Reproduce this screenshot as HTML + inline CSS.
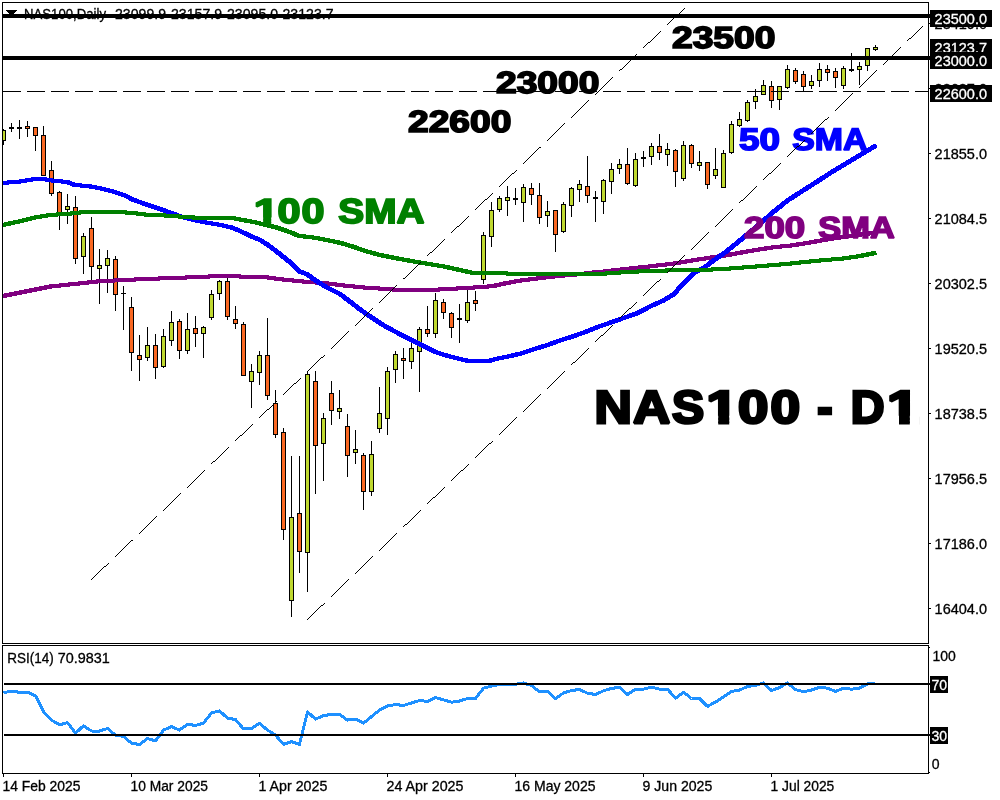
<!DOCTYPE html>
<html lang="en"><head><meta charset="utf-8"><title>NAS100 - D1</title>
<style>
html,body{margin:0;padding:0;background:#fff;}
body{width:1000px;height:800px;overflow:hidden;}
svg{display:block;}
text{font-family:"Liberation Sans",sans-serif;}
.s{font-size:14.2px;fill:#000;stroke:#000;stroke-width:0.3px;}
.w{font-size:14.2px;fill:#fff;stroke:#fff;stroke-width:0.3px;}
.b{font-weight:bold;stroke-linejoin:miter;stroke-miterlimit:1.5;}
</style></head><body>
<svg width="1000" height="800" viewBox="0 0 1000 800" role="img" aria-label="NAS100 - D1 daily candlestick chart with 50 SMA, 100 SMA, 200 SMA and RSI(14)">
<rect x="0" y="0" width="1000" height="800" fill="#fff"/>
<g shape-rendering="crispEdges">
<polygon points="5,10 17,10 11,16" fill="#000"/>
</g>
<text class="s" y="19"><tspan x="24" textLength="82" lengthAdjust="spacingAndGlyphs">NAS100,Daily</tspan> <tspan x="115" textLength="51" lengthAdjust="spacingAndGlyphs">23099.9</tspan> <tspan x="171" textLength="51" lengthAdjust="spacingAndGlyphs">23157.9</tspan> <tspan x="227" textLength="51" lengthAdjust="spacingAndGlyphs">23095.0</tspan> <tspan x="282.5" textLength="51" lengthAdjust="spacingAndGlyphs">23123.7</tspan></text>
<clipPath id="main"><rect x="3" y="3" width="925" height="640"/></clipPath>
<clipPath id="sub"><rect x="3" y="646" width="925" height="127"/></clipPath>
<g shape-rendering="crispEdges" clip-path="url(#main)">
<rect x="3" y="129" width="1" height="16" fill="#000"/>
<rect x="1" y="130" width="5" height="11" fill="#000"/>
<rect x="2" y="131" width="3" height="9" fill="#BFD82F"/>
<rect x="11" y="123" width="1" height="9" fill="#000"/>
<rect x="9" y="127" width="5" height="2" fill="#000"/>
<rect x="19" y="120" width="1" height="19" fill="#000"/>
<rect x="17" y="127" width="5" height="2" fill="#000"/>
<rect x="27" y="121" width="1" height="16" fill="#000"/>
<rect x="25" y="126" width="5" height="3" fill="#000"/>
<rect x="26" y="127" width="3" height="1" fill="#FA6822"/>
<rect x="35" y="127" width="1" height="24" fill="#000"/>
<rect x="33" y="127" width="5" height="9" fill="#000"/>
<rect x="34" y="128" width="3" height="7" fill="#FA6822"/>
<rect x="43" y="126" width="1" height="50" fill="#000"/>
<rect x="41" y="135" width="5" height="41" fill="#000"/>
<rect x="42" y="136" width="3" height="39" fill="#FA6822"/>
<rect x="51" y="161" width="1" height="35" fill="#000"/>
<rect x="49" y="170" width="5" height="24" fill="#000"/>
<rect x="50" y="171" width="3" height="22" fill="#FA6822"/>
<rect x="59" y="191" width="1" height="39" fill="#000"/>
<rect x="57" y="192" width="5" height="22" fill="#000"/>
<rect x="58" y="193" width="3" height="20" fill="#FA6822"/>
<rect x="67" y="194" width="1" height="30" fill="#000"/>
<rect x="65" y="206" width="5" height="4" fill="#000"/>
<rect x="66" y="207" width="3" height="2" fill="#BFD82F"/>
<rect x="75" y="196" width="1" height="68" fill="#000"/>
<rect x="73" y="207" width="5" height="52" fill="#000"/>
<rect x="74" y="208" width="3" height="50" fill="#FA6822"/>
<rect x="83" y="233" width="1" height="41" fill="#000"/>
<rect x="81" y="236" width="5" height="21" fill="#000"/>
<rect x="82" y="237" width="3" height="19" fill="#BFD82F"/>
<rect x="91" y="217" width="1" height="64" fill="#000"/>
<rect x="89" y="228" width="5" height="39" fill="#000"/>
<rect x="90" y="229" width="3" height="37" fill="#FA6822"/>
<rect x="99" y="249" width="1" height="55" fill="#000"/>
<rect x="97" y="265" width="5" height="4" fill="#000"/>
<rect x="98" y="266" width="3" height="2" fill="#BFD82F"/>
<rect x="107" y="250" width="1" height="43" fill="#000"/>
<rect x="105" y="258" width="5" height="8" fill="#000"/>
<rect x="106" y="259" width="3" height="6" fill="#BFD82F"/>
<rect x="115" y="256" width="1" height="55" fill="#000"/>
<rect x="113" y="259" width="5" height="36" fill="#000"/>
<rect x="114" y="260" width="3" height="34" fill="#FA6822"/>
<rect x="123" y="286" width="1" height="44" fill="#000"/>
<rect x="121" y="293" width="5" height="1" fill="#000"/>
<rect x="131" y="297" width="1" height="74" fill="#000"/>
<rect x="129" y="307" width="5" height="46" fill="#000"/>
<rect x="130" y="308" width="3" height="44" fill="#FA6822"/>
<rect x="139" y="335" width="1" height="46" fill="#000"/>
<rect x="137" y="355" width="5" height="5" fill="#000"/>
<rect x="138" y="356" width="3" height="3" fill="#FA6822"/>
<rect x="147" y="327" width="1" height="34" fill="#000"/>
<rect x="145" y="345" width="5" height="13" fill="#000"/>
<rect x="146" y="346" width="3" height="11" fill="#BFD82F"/>
<rect x="155" y="334" width="1" height="45" fill="#000"/>
<rect x="153" y="345" width="5" height="23" fill="#000"/>
<rect x="154" y="346" width="3" height="21" fill="#FA6822"/>
<rect x="163" y="329" width="1" height="39" fill="#000"/>
<rect x="161" y="336" width="5" height="31" fill="#000"/>
<rect x="162" y="337" width="3" height="29" fill="#BFD82F"/>
<rect x="171" y="311" width="1" height="35" fill="#000"/>
<rect x="169" y="322" width="5" height="19" fill="#000"/>
<rect x="170" y="323" width="3" height="17" fill="#BFD82F"/>
<rect x="179" y="319" width="1" height="40" fill="#000"/>
<rect x="177" y="321" width="5" height="30" fill="#000"/>
<rect x="178" y="322" width="3" height="28" fill="#FA6822"/>
<rect x="187" y="313" width="1" height="41" fill="#000"/>
<rect x="185" y="329" width="5" height="22" fill="#000"/>
<rect x="186" y="330" width="3" height="20" fill="#BFD82F"/>
<rect x="195" y="316" width="1" height="31" fill="#000"/>
<rect x="193" y="328" width="5" height="6" fill="#000"/>
<rect x="194" y="329" width="3" height="4" fill="#FA6822"/>
<rect x="203" y="326" width="1" height="32" fill="#000"/>
<rect x="201" y="327" width="5" height="7" fill="#000"/>
<rect x="202" y="328" width="3" height="5" fill="#BFD82F"/>
<rect x="211" y="290" width="1" height="30" fill="#000"/>
<rect x="209" y="294" width="5" height="24" fill="#000"/>
<rect x="210" y="295" width="3" height="22" fill="#BFD82F"/>
<rect x="219" y="280" width="1" height="20" fill="#000"/>
<rect x="217" y="281" width="5" height="13" fill="#000"/>
<rect x="218" y="282" width="3" height="11" fill="#BFD82F"/>
<rect x="227" y="278" width="1" height="42" fill="#000"/>
<rect x="225" y="281" width="5" height="36" fill="#000"/>
<rect x="226" y="282" width="3" height="34" fill="#FA6822"/>
<rect x="235" y="306" width="1" height="23" fill="#000"/>
<rect x="233" y="319" width="5" height="5" fill="#000"/>
<rect x="234" y="320" width="3" height="3" fill="#FA6822"/>
<rect x="243" y="322" width="1" height="54" fill="#000"/>
<rect x="241" y="324" width="5" height="52" fill="#000"/>
<rect x="242" y="325" width="3" height="50" fill="#FA6822"/>
<rect x="251" y="364" width="1" height="44" fill="#000"/>
<rect x="249" y="371" width="5" height="11" fill="#000"/>
<rect x="250" y="372" width="3" height="9" fill="#BFD82F"/>
<rect x="259" y="351" width="1" height="34" fill="#000"/>
<rect x="257" y="355" width="5" height="18" fill="#000"/>
<rect x="258" y="356" width="3" height="16" fill="#BFD82F"/>
<rect x="267" y="318" width="1" height="82" fill="#000"/>
<rect x="265" y="355" width="5" height="41" fill="#000"/>
<rect x="266" y="356" width="3" height="39" fill="#FA6822"/>
<rect x="275" y="390" width="1" height="48" fill="#000"/>
<rect x="273" y="403" width="5" height="32" fill="#000"/>
<rect x="274" y="404" width="3" height="30" fill="#FA6822"/>
<rect x="283" y="428" width="1" height="112" fill="#000"/>
<rect x="281" y="432" width="5" height="98" fill="#000"/>
<rect x="282" y="433" width="3" height="96" fill="#FA6822"/>
<rect x="291" y="456" width="1" height="161" fill="#000"/>
<rect x="289" y="517" width="5" height="84" fill="#000"/>
<rect x="290" y="518" width="3" height="82" fill="#BFD82F"/>
<rect x="299" y="456" width="1" height="117" fill="#000"/>
<rect x="297" y="513" width="5" height="39" fill="#000"/>
<rect x="298" y="514" width="3" height="37" fill="#FA6822"/>
<rect x="307" y="371" width="1" height="221" fill="#000"/>
<rect x="305" y="374" width="5" height="179" fill="#000"/>
<rect x="306" y="375" width="3" height="177" fill="#BFD82F"/>
<rect x="315" y="371" width="1" height="123" fill="#000"/>
<rect x="313" y="381" width="5" height="65" fill="#000"/>
<rect x="314" y="382" width="3" height="63" fill="#FA6822"/>
<rect x="323" y="413" width="1" height="68" fill="#000"/>
<rect x="321" y="418" width="5" height="26" fill="#000"/>
<rect x="322" y="419" width="3" height="24" fill="#BFD82F"/>
<rect x="331" y="381" width="1" height="44" fill="#000"/>
<rect x="329" y="393" width="5" height="18" fill="#000"/>
<rect x="330" y="394" width="3" height="16" fill="#FA6822"/>
<rect x="339" y="390" width="1" height="29" fill="#000"/>
<rect x="337" y="408" width="5" height="4" fill="#000"/>
<rect x="338" y="409" width="3" height="2" fill="#BFD82F"/>
<rect x="347" y="414" width="1" height="63" fill="#000"/>
<rect x="345" y="426" width="5" height="30" fill="#000"/>
<rect x="346" y="427" width="3" height="28" fill="#FA6822"/>
<rect x="355" y="430" width="1" height="34" fill="#000"/>
<rect x="353" y="449" width="5" height="4" fill="#000"/>
<rect x="354" y="450" width="3" height="2" fill="#BFD82F"/>
<rect x="363" y="453" width="1" height="57" fill="#000"/>
<rect x="361" y="455" width="5" height="37" fill="#000"/>
<rect x="362" y="456" width="3" height="35" fill="#FA6822"/>
<rect x="371" y="441" width="1" height="55" fill="#000"/>
<rect x="369" y="454" width="5" height="38" fill="#000"/>
<rect x="370" y="455" width="3" height="36" fill="#BFD82F"/>
<rect x="379" y="387" width="1" height="46" fill="#000"/>
<rect x="377" y="413" width="5" height="16" fill="#000"/>
<rect x="378" y="414" width="3" height="14" fill="#BFD82F"/>
<rect x="387" y="367" width="1" height="68" fill="#000"/>
<rect x="385" y="371" width="5" height="48" fill="#000"/>
<rect x="386" y="372" width="3" height="46" fill="#BFD82F"/>
<rect x="395" y="351" width="1" height="32" fill="#000"/>
<rect x="393" y="354" width="5" height="16" fill="#000"/>
<rect x="394" y="355" width="3" height="14" fill="#BFD82F"/>
<rect x="403" y="348" width="1" height="31" fill="#000"/>
<rect x="401" y="358" width="5" height="3" fill="#000"/>
<rect x="402" y="359" width="3" height="1" fill="#FA6822"/>
<rect x="411" y="342" width="1" height="27" fill="#000"/>
<rect x="409" y="348" width="5" height="14" fill="#000"/>
<rect x="410" y="349" width="3" height="12" fill="#BFD82F"/>
<rect x="419" y="327" width="1" height="65" fill="#000"/>
<rect x="417" y="329" width="5" height="23" fill="#000"/>
<rect x="418" y="330" width="3" height="21" fill="#BFD82F"/>
<rect x="427" y="306" width="1" height="31" fill="#000"/>
<rect x="425" y="329" width="5" height="5" fill="#000"/>
<rect x="426" y="330" width="3" height="3" fill="#FA6822"/>
<rect x="435" y="293" width="1" height="45" fill="#000"/>
<rect x="433" y="300" width="5" height="34" fill="#000"/>
<rect x="434" y="301" width="3" height="32" fill="#BFD82F"/>
<rect x="443" y="299" width="1" height="20" fill="#000"/>
<rect x="441" y="302" width="5" height="11" fill="#000"/>
<rect x="442" y="303" width="3" height="9" fill="#FA6822"/>
<rect x="451" y="312" width="1" height="26" fill="#000"/>
<rect x="449" y="313" width="5" height="15" fill="#000"/>
<rect x="450" y="314" width="3" height="13" fill="#FA6822"/>
<rect x="459" y="304" width="1" height="39" fill="#000"/>
<rect x="457" y="318" width="5" height="2" fill="#000"/>
<rect x="467" y="290" width="1" height="33" fill="#000"/>
<rect x="465" y="302" width="5" height="19" fill="#000"/>
<rect x="466" y="303" width="3" height="17" fill="#BFD82F"/>
<rect x="475" y="291" width="1" height="20" fill="#000"/>
<rect x="473" y="300" width="5" height="4" fill="#000"/>
<rect x="474" y="301" width="3" height="2" fill="#FA6822"/>
<rect x="483" y="232" width="1" height="52" fill="#000"/>
<rect x="481" y="235" width="5" height="45" fill="#000"/>
<rect x="482" y="236" width="3" height="43" fill="#BFD82F"/>
<rect x="491" y="202" width="1" height="45" fill="#000"/>
<rect x="489" y="210" width="5" height="27" fill="#000"/>
<rect x="490" y="211" width="3" height="25" fill="#BFD82F"/>
<rect x="499" y="196" width="1" height="16" fill="#000"/>
<rect x="497" y="198" width="5" height="12" fill="#000"/>
<rect x="498" y="199" width="3" height="10" fill="#BFD82F"/>
<rect x="507" y="186" width="1" height="30" fill="#000"/>
<rect x="505" y="197" width="5" height="4" fill="#000"/>
<rect x="506" y="198" width="3" height="2" fill="#BFD82F"/>
<rect x="515" y="188" width="1" height="17" fill="#000"/>
<rect x="513" y="198" width="5" height="2" fill="#000"/>
<rect x="523" y="184" width="1" height="38" fill="#000"/>
<rect x="521" y="187" width="5" height="16" fill="#000"/>
<rect x="522" y="188" width="3" height="14" fill="#BFD82F"/>
<rect x="531" y="183" width="1" height="22" fill="#000"/>
<rect x="529" y="188" width="5" height="7" fill="#000"/>
<rect x="530" y="189" width="3" height="5" fill="#FA6822"/>
<rect x="539" y="183" width="1" height="41" fill="#000"/>
<rect x="537" y="195" width="5" height="23" fill="#000"/>
<rect x="538" y="196" width="3" height="21" fill="#FA6822"/>
<rect x="547" y="201" width="1" height="26" fill="#000"/>
<rect x="545" y="211" width="5" height="5" fill="#000"/>
<rect x="546" y="212" width="3" height="3" fill="#BFD82F"/>
<rect x="555" y="210" width="1" height="42" fill="#000"/>
<rect x="553" y="210" width="5" height="25" fill="#000"/>
<rect x="554" y="211" width="3" height="23" fill="#FA6822"/>
<rect x="563" y="202" width="1" height="31" fill="#000"/>
<rect x="561" y="204" width="5" height="28" fill="#000"/>
<rect x="562" y="205" width="3" height="26" fill="#BFD82F"/>
<rect x="571" y="187" width="1" height="30" fill="#000"/>
<rect x="569" y="188" width="5" height="18" fill="#000"/>
<rect x="570" y="189" width="3" height="16" fill="#BFD82F"/>
<rect x="579" y="180" width="1" height="22" fill="#000"/>
<rect x="577" y="184" width="5" height="6" fill="#000"/>
<rect x="578" y="185" width="3" height="4" fill="#BFD82F"/>
<rect x="587" y="156" width="1" height="47" fill="#000"/>
<rect x="585" y="186" width="5" height="10" fill="#000"/>
<rect x="586" y="187" width="3" height="8" fill="#FA6822"/>
<rect x="595" y="191" width="1" height="31" fill="#000"/>
<rect x="593" y="197" width="5" height="2" fill="#000"/>
<rect x="603" y="179" width="1" height="35" fill="#000"/>
<rect x="601" y="180" width="5" height="22" fill="#000"/>
<rect x="602" y="181" width="3" height="20" fill="#BFD82F"/>
<rect x="611" y="163" width="1" height="31" fill="#000"/>
<rect x="609" y="169" width="5" height="13" fill="#000"/>
<rect x="610" y="170" width="3" height="11" fill="#BFD82F"/>
<rect x="619" y="159" width="1" height="15" fill="#000"/>
<rect x="617" y="164" width="5" height="5" fill="#000"/>
<rect x="618" y="165" width="3" height="3" fill="#BFD82F"/>
<rect x="627" y="148" width="1" height="37" fill="#000"/>
<rect x="625" y="164" width="5" height="20" fill="#000"/>
<rect x="626" y="165" width="3" height="18" fill="#FA6822"/>
<rect x="635" y="153" width="1" height="34" fill="#000"/>
<rect x="633" y="159" width="5" height="27" fill="#000"/>
<rect x="634" y="160" width="3" height="25" fill="#BFD82F"/>
<rect x="643" y="151" width="1" height="16" fill="#000"/>
<rect x="641" y="157" width="5" height="2" fill="#000"/>
<rect x="651" y="143" width="1" height="22" fill="#000"/>
<rect x="649" y="146" width="5" height="11" fill="#000"/>
<rect x="650" y="147" width="3" height="9" fill="#BFD82F"/>
<rect x="659" y="134" width="1" height="26" fill="#000"/>
<rect x="657" y="146" width="5" height="7" fill="#000"/>
<rect x="658" y="147" width="3" height="5" fill="#FA6822"/>
<rect x="667" y="143" width="1" height="23" fill="#000"/>
<rect x="665" y="149" width="5" height="6" fill="#000"/>
<rect x="666" y="150" width="3" height="4" fill="#BFD82F"/>
<rect x="675" y="149" width="1" height="38" fill="#000"/>
<rect x="673" y="150" width="5" height="22" fill="#000"/>
<rect x="674" y="151" width="3" height="20" fill="#FA6822"/>
<rect x="683" y="141" width="1" height="40" fill="#000"/>
<rect x="681" y="145" width="5" height="34" fill="#000"/>
<rect x="682" y="146" width="3" height="32" fill="#BFD82F"/>
<rect x="691" y="144" width="1" height="24" fill="#000"/>
<rect x="689" y="145" width="5" height="19" fill="#000"/>
<rect x="690" y="146" width="3" height="17" fill="#FA6822"/>
<rect x="699" y="151" width="1" height="20" fill="#000"/>
<rect x="697" y="162" width="5" height="4" fill="#000"/>
<rect x="698" y="163" width="3" height="2" fill="#BFD82F"/>
<rect x="707" y="162" width="1" height="27" fill="#000"/>
<rect x="705" y="162" width="5" height="23" fill="#000"/>
<rect x="706" y="163" width="3" height="21" fill="#FA6822"/>
<rect x="715" y="148" width="1" height="31" fill="#000"/>
<rect x="713" y="169" width="5" height="7" fill="#000"/>
<rect x="714" y="170" width="3" height="5" fill="#BFD82F"/>
<rect x="723" y="150" width="1" height="38" fill="#000"/>
<rect x="721" y="153" width="5" height="35" fill="#000"/>
<rect x="722" y="154" width="3" height="33" fill="#BFD82F"/>
<rect x="731" y="121" width="1" height="33" fill="#000"/>
<rect x="729" y="124" width="5" height="29" fill="#000"/>
<rect x="730" y="125" width="3" height="27" fill="#BFD82F"/>
<rect x="739" y="112" width="1" height="15" fill="#000"/>
<rect x="737" y="119" width="5" height="7" fill="#000"/>
<rect x="738" y="120" width="3" height="5" fill="#BFD82F"/>
<rect x="747" y="100" width="1" height="22" fill="#000"/>
<rect x="745" y="102" width="5" height="19" fill="#000"/>
<rect x="746" y="103" width="3" height="17" fill="#BFD82F"/>
<rect x="755" y="89" width="1" height="20" fill="#000"/>
<rect x="753" y="96" width="5" height="6" fill="#000"/>
<rect x="754" y="97" width="3" height="4" fill="#BFD82F"/>
<rect x="763" y="80" width="1" height="15" fill="#000"/>
<rect x="761" y="85" width="5" height="10" fill="#000"/>
<rect x="762" y="86" width="3" height="8" fill="#BFD82F"/>
<rect x="771" y="81" width="1" height="27" fill="#000"/>
<rect x="769" y="86" width="5" height="15" fill="#000"/>
<rect x="770" y="87" width="3" height="13" fill="#FA6822"/>
<rect x="779" y="86" width="1" height="24" fill="#000"/>
<rect x="777" y="86" width="5" height="14" fill="#000"/>
<rect x="778" y="87" width="3" height="12" fill="#BFD82F"/>
<rect x="787" y="65" width="1" height="24" fill="#000"/>
<rect x="785" y="69" width="5" height="19" fill="#000"/>
<rect x="786" y="70" width="3" height="17" fill="#BFD82F"/>
<rect x="795" y="68" width="1" height="16" fill="#000"/>
<rect x="793" y="70" width="5" height="12" fill="#000"/>
<rect x="794" y="71" width="3" height="10" fill="#FA6822"/>
<rect x="803" y="71" width="1" height="21" fill="#000"/>
<rect x="801" y="74" width="5" height="13" fill="#000"/>
<rect x="802" y="75" width="3" height="11" fill="#FA6822"/>
<rect x="811" y="75" width="1" height="14" fill="#000"/>
<rect x="809" y="81" width="5" height="5" fill="#000"/>
<rect x="810" y="82" width="3" height="3" fill="#BFD82F"/>
<rect x="819" y="63" width="1" height="24" fill="#000"/>
<rect x="817" y="69" width="5" height="12" fill="#000"/>
<rect x="818" y="70" width="3" height="10" fill="#BFD82F"/>
<rect x="827" y="65" width="1" height="16" fill="#000"/>
<rect x="825" y="69" width="5" height="4" fill="#000"/>
<rect x="826" y="70" width="3" height="2" fill="#FA6822"/>
<rect x="835" y="68" width="1" height="20" fill="#000"/>
<rect x="833" y="71" width="5" height="7" fill="#000"/>
<rect x="834" y="72" width="3" height="5" fill="#FA6822"/>
<rect x="843" y="66" width="1" height="23" fill="#000"/>
<rect x="841" y="68" width="5" height="18" fill="#000"/>
<rect x="842" y="69" width="3" height="16" fill="#BFD82F"/>
<rect x="851" y="53" width="1" height="19" fill="#000"/>
<rect x="849" y="69" width="5" height="2" fill="#000"/>
<rect x="859" y="62" width="1" height="23" fill="#000"/>
<rect x="857" y="66" width="5" height="4" fill="#000"/>
<rect x="858" y="67" width="3" height="2" fill="#BFD82F"/>
<rect x="867" y="48" width="1" height="23" fill="#000"/>
<rect x="865" y="48" width="5" height="18" fill="#000"/>
<rect x="866" y="49" width="3" height="16" fill="#BFD82F"/>
<rect x="875" y="45" width="1" height="6" fill="#000"/>
<rect x="873" y="47" width="5" height="3" fill="#000"/>
<rect x="874" y="48" width="3" height="1" fill="#BFD82F"/>
</g>
<g stroke="#800080" fill="none" stroke-linecap="round" shape-rendering="crispEdges" clip-path="url(#main)">
<line x1="3.0" y1="296.0" x2="50.0" y2="286.6" stroke-width="4.37"/>
<line x1="50.0" y1="286.6" x2="100.0" y2="281.2" stroke-width="4.20"/>
<line x1="100.0" y1="281.2" x2="125.0" y2="280.0" stroke-width="4.09"/>
<line x1="125.0" y1="280.0" x2="150.0" y2="278.8" stroke-width="4.09"/>
<line x1="150.0" y1="278.8" x2="180.0" y2="277.8" stroke-width="4.06"/>
<line x1="180.0" y1="277.8" x2="220.0" y2="276.0" stroke-width="4.08"/>
<line x1="220.0" y1="276.0" x2="235.0" y2="276.0" stroke-width="4.00"/>
<line x1="235.0" y1="276.0" x2="245.0" y2="277.0" stroke-width="4.19"/>
<line x1="245.0" y1="277.0" x2="265.0" y2="277.0" stroke-width="4.00"/>
<line x1="265.0" y1="277.0" x2="277.5" y2="278.9" stroke-width="4.28"/>
<line x1="277.5" y1="278.9" x2="290.0" y2="280.2" stroke-width="4.20"/>
<line x1="290.0" y1="280.2" x2="302.5" y2="281.5" stroke-width="4.19"/>
<line x1="302.5" y1="281.5" x2="327.5" y2="283.4" stroke-width="4.14"/>
<line x1="327.5" y1="283.4" x2="340.0" y2="285.1" stroke-width="4.25"/>
<line x1="340.0" y1="285.1" x2="352.5" y2="286.4" stroke-width="4.20"/>
<line x1="352.5" y1="286.4" x2="365.0" y2="287.6" stroke-width="4.18"/>
<line x1="365.0" y1="287.6" x2="385.0" y2="288.9" stroke-width="4.12"/>
<line x1="385.0" y1="288.9" x2="397.5" y2="289.8" stroke-width="4.13"/>
<line x1="397.5" y1="289.8" x2="435.0" y2="289.8" stroke-width="4.00"/>
<line x1="435.0" y1="289.8" x2="447.5" y2="288.9" stroke-width="4.13"/>
<line x1="447.5" y1="288.9" x2="466.0" y2="288.1" stroke-width="4.08"/>
<line x1="466.0" y1="288.1" x2="480.0" y2="287.0" stroke-width="4.15"/>
<line x1="480.0" y1="287.0" x2="492.5" y2="286.2" stroke-width="4.11"/>
<line x1="492.5" y1="286.2" x2="505.0" y2="283.4" stroke-width="4.41"/>
<line x1="505.0" y1="283.4" x2="517.5" y2="281.0" stroke-width="4.35"/>
<line x1="517.5" y1="281.0" x2="530.0" y2="279.4" stroke-width="4.24"/>
<line x1="530.0" y1="279.4" x2="542.5" y2="277.8" stroke-width="4.25"/>
<line x1="542.5" y1="277.8" x2="555.0" y2="276.4" stroke-width="4.20"/>
<line x1="555.0" y1="276.4" x2="567.5" y2="275.1" stroke-width="4.20"/>
<line x1="567.5" y1="275.1" x2="580.0" y2="274.2" stroke-width="4.14"/>
<line x1="580.0" y1="274.2" x2="592.5" y2="272.6" stroke-width="4.24"/>
<line x1="592.5" y1="272.6" x2="605.0" y2="271.4" stroke-width="4.18"/>
<line x1="605.0" y1="271.4" x2="625.0" y2="269.0" stroke-width="4.22"/>
<line x1="625.0" y1="269.0" x2="650.0" y2="266.4" stroke-width="4.20"/>
<line x1="650.0" y1="266.4" x2="675.0" y2="263.4" stroke-width="4.22"/>
<line x1="675.0" y1="263.4" x2="700.0" y2="259.2" stroke-width="4.31"/>
<line x1="700.0" y1="259.2" x2="725.0" y2="255.5" stroke-width="4.28"/>
<line x1="725.0" y1="255.5" x2="750.0" y2="251.0" stroke-width="4.33"/>
<line x1="750.0" y1="251.0" x2="775.0" y2="247.0" stroke-width="4.30"/>
<line x1="775.0" y1="247.0" x2="790.0" y2="245.7" stroke-width="4.16"/>
<line x1="790.0" y1="245.7" x2="800.0" y2="244.1" stroke-width="4.30"/>
<line x1="800.0" y1="244.1" x2="810.0" y2="242.5" stroke-width="4.30"/>
<line x1="810.0" y1="242.5" x2="820.0" y2="240.7" stroke-width="4.33"/>
<line x1="820.0" y1="240.7" x2="830.0" y2="239.0" stroke-width="4.31"/>
<line x1="830.0" y1="239.0" x2="840.0" y2="237.5" stroke-width="4.28"/>
<line x1="840.0" y1="237.5" x2="850.0" y2="236.0" stroke-width="4.28"/>
<line x1="850.0" y1="236.0" x2="876.5" y2="232.5" stroke-width="4.25" stroke-linecap="butt"/>
</g>
<g stroke="#0000FF" fill="none" stroke-linecap="round" shape-rendering="crispEdges" clip-path="url(#main)">
<line x1="3.0" y1="182.9" x2="19.0" y2="181.7" stroke-width="4.14"/>
<line x1="19.0" y1="181.7" x2="35.0" y2="179.0" stroke-width="4.31"/>
<line x1="35.0" y1="179.0" x2="42.0" y2="178.9" stroke-width="4.03"/>
<line x1="42.0" y1="178.9" x2="51.0" y2="180.4" stroke-width="4.31"/>
<line x1="51.0" y1="180.4" x2="67.0" y2="182.0" stroke-width="4.19"/>
<line x1="67.0" y1="182.0" x2="75.0" y2="185.1" stroke-width="4.64"/>
<line x1="75.0" y1="185.1" x2="87.5" y2="186.0" stroke-width="4.14"/>
<line x1="87.5" y1="186.0" x2="100.0" y2="188.2" stroke-width="4.33"/>
<line x1="100.0" y1="188.2" x2="112.5" y2="191.4" stroke-width="4.45"/>
<line x1="112.5" y1="191.4" x2="125.0" y2="195.5" stroke-width="4.56"/>
<line x1="125.0" y1="195.5" x2="132.5" y2="199.4" stroke-width="4.78"/>
<line x1="132.5" y1="199.4" x2="145.0" y2="204.0" stroke-width="4.62"/>
<line x1="145.0" y1="204.0" x2="157.5" y2="208.1" stroke-width="4.56"/>
<line x1="157.5" y1="208.1" x2="170.0" y2="212.5" stroke-width="4.60"/>
<line x1="170.0" y1="212.5" x2="182.5" y2="217.1" stroke-width="4.62"/>
<line x1="182.5" y1="217.1" x2="195.0" y2="220.2" stroke-width="4.45"/>
<line x1="195.0" y1="220.2" x2="207.5" y2="222.8" stroke-width="4.37"/>
<line x1="207.5" y1="222.8" x2="220.0" y2="224.8" stroke-width="4.30"/>
<line x1="220.0" y1="224.8" x2="232.5" y2="227.8" stroke-width="4.43"/>
<line x1="232.5" y1="227.8" x2="240.0" y2="231.0" stroke-width="4.69"/>
<line x1="240.0" y1="231.0" x2="252.5" y2="236.9" stroke-width="4.73"/>
<line x1="252.5" y1="236.9" x2="260.6" y2="240.2" stroke-width="4.67"/>
<line x1="260.6" y1="240.2" x2="268.8" y2="245.6" stroke-width="4.87"/>
<line x1="268.8" y1="245.6" x2="277.5" y2="252.2" stroke-width="4.92"/>
<line x1="277.5" y1="252.2" x2="290.0" y2="262.2" stroke-width="4.93"/>
<line x1="290.0" y1="262.2" x2="298.8" y2="271.0" stroke-width="4.95"/>
<line x1="298.8" y1="271.0" x2="307.5" y2="274.4" stroke-width="4.64"/>
<line x1="307.5" y1="274.4" x2="315.0" y2="280.2" stroke-width="4.92"/>
<line x1="315.0" y1="280.2" x2="327.5" y2="287.8" stroke-width="4.84"/>
<line x1="327.5" y1="287.8" x2="340.0" y2="294.0" stroke-width="4.76"/>
<line x1="340.0" y1="294.0" x2="352.5" y2="303.5" stroke-width="4.92"/>
<line x1="352.5" y1="303.5" x2="360.0" y2="309.4" stroke-width="4.92"/>
<line x1="360.0" y1="309.4" x2="372.5" y2="318.1" stroke-width="4.89"/>
<line x1="372.5" y1="318.1" x2="385.0" y2="326.2" stroke-width="4.87"/>
<line x1="385.0" y1="326.2" x2="397.5" y2="332.8" stroke-width="4.78"/>
<line x1="397.5" y1="332.8" x2="410.0" y2="339.4" stroke-width="4.79"/>
<line x1="410.0" y1="339.4" x2="422.5" y2="345.6" stroke-width="4.76"/>
<line x1="422.5" y1="345.6" x2="435.0" y2="351.9" stroke-width="4.76"/>
<line x1="435.0" y1="351.9" x2="447.5" y2="355.9" stroke-width="4.55"/>
<line x1="447.5" y1="355.9" x2="460.0" y2="359.0" stroke-width="4.44"/>
<line x1="460.0" y1="359.0" x2="467.5" y2="360.7" stroke-width="4.41"/>
<line x1="467.5" y1="360.7" x2="490.0" y2="360.7" stroke-width="4.00"/>
<line x1="490.0" y1="360.7" x2="497.5" y2="358.6" stroke-width="4.49"/>
<line x1="497.5" y1="358.6" x2="510.0" y2="356.1" stroke-width="4.37"/>
<line x1="510.0" y1="356.1" x2="522.5" y2="353.1" stroke-width="4.43"/>
<line x1="522.5" y1="353.1" x2="535.0" y2="348.9" stroke-width="4.57"/>
<line x1="535.0" y1="348.9" x2="547.5" y2="345.0" stroke-width="4.54"/>
<line x1="547.5" y1="345.0" x2="560.0" y2="340.5" stroke-width="4.61"/>
<line x1="560.0" y1="340.5" x2="572.5" y2="336.5" stroke-width="4.55"/>
<line x1="572.5" y1="336.5" x2="585.0" y2="332.2" stroke-width="4.58"/>
<line x1="585.0" y1="332.2" x2="600.0" y2="326.2" stroke-width="4.65"/>
<line x1="600.0" y1="326.2" x2="612.5" y2="321.9" stroke-width="4.59"/>
<line x1="612.5" y1="321.9" x2="625.0" y2="317.5" stroke-width="4.60"/>
<line x1="625.0" y1="317.5" x2="637.5" y2="313.1" stroke-width="4.60"/>
<line x1="637.5" y1="313.1" x2="650.0" y2="306.5" stroke-width="4.78"/>
<line x1="650.0" y1="306.5" x2="662.5" y2="300.9" stroke-width="4.71"/>
<line x1="662.5" y1="300.9" x2="673.8" y2="294.4" stroke-width="4.82"/>
<line x1="673.8" y1="294.4" x2="681.2" y2="285.6" stroke-width="4.94"/>
<line x1="681.2" y1="285.6" x2="687.5" y2="279.4" stroke-width="4.95"/>
<line x1="687.5" y1="279.4" x2="695.0" y2="272.5" stroke-width="4.95"/>
<line x1="695.0" y1="272.5" x2="706.2" y2="266.2" stroke-width="4.81"/>
<line x1="706.2" y1="266.2" x2="712.5" y2="261.2" stroke-width="4.93"/>
<line x1="712.5" y1="261.2" x2="725.0" y2="252.5" stroke-width="4.89"/>
<line x1="725.0" y1="252.5" x2="737.5" y2="242.5" stroke-width="4.93"/>
<line x1="737.5" y1="242.5" x2="750.0" y2="232.1" stroke-width="4.93"/>
<line x1="750.0" y1="232.1" x2="762.5" y2="221.5" stroke-width="4.94"/>
<line x1="762.5" y1="221.5" x2="775.0" y2="210.6" stroke-width="4.94"/>
<line x1="775.0" y1="210.6" x2="787.5" y2="200.5" stroke-width="4.93"/>
<line x1="787.5" y1="200.5" x2="800.0" y2="192.5" stroke-width="4.86"/>
<line x1="800.0" y1="192.5" x2="812.5" y2="184.5" stroke-width="4.86"/>
<line x1="812.5" y1="184.5" x2="825.0" y2="176.5" stroke-width="4.86"/>
<line x1="825.0" y1="176.5" x2="830.0" y2="173.1" stroke-width="4.88"/>
<line x1="830.0" y1="173.1" x2="842.5" y2="165.6" stroke-width="4.84"/>
<line x1="842.5" y1="165.6" x2="855.0" y2="158.1" stroke-width="4.84"/>
<line x1="855.0" y1="158.1" x2="867.5" y2="150.6" stroke-width="4.84"/>
<line x1="867.5" y1="150.6" x2="876.5" y2="145.2" stroke-width="4.84" stroke-linecap="butt"/>
</g>
<g stroke="#008000" fill="none" stroke-linecap="round" shape-rendering="crispEdges" clip-path="url(#main)">
<line x1="3.0" y1="224.9" x2="19.0" y2="221.5" stroke-width="4.39"/>
<line x1="19.0" y1="221.5" x2="35.0" y2="217.5" stroke-width="4.45"/>
<line x1="35.0" y1="217.5" x2="51.0" y2="214.9" stroke-width="4.30"/>
<line x1="51.0" y1="214.9" x2="67.0" y2="213.9" stroke-width="4.12"/>
<line x1="67.0" y1="213.9" x2="85.0" y2="212.0" stroke-width="4.20"/>
<line x1="85.0" y1="212.0" x2="120.0" y2="212.0" stroke-width="4.00"/>
<line x1="120.0" y1="212.0" x2="132.5" y2="213.0" stroke-width="4.15"/>
<line x1="132.5" y1="213.0" x2="145.0" y2="214.5" stroke-width="4.22"/>
<line x1="145.0" y1="214.5" x2="157.5" y2="215.1" stroke-width="4.09"/>
<line x1="157.5" y1="215.1" x2="170.0" y2="215.8" stroke-width="4.10"/>
<line x1="170.0" y1="215.8" x2="182.5" y2="216.8" stroke-width="4.15"/>
<line x1="182.5" y1="216.8" x2="195.0" y2="217.6" stroke-width="4.13"/>
<line x1="195.0" y1="217.6" x2="232.5" y2="218.0" stroke-width="4.02"/>
<line x1="232.5" y1="218.0" x2="240.0" y2="219.5" stroke-width="4.37"/>
<line x1="240.0" y1="219.5" x2="252.5" y2="221.8" stroke-width="4.33"/>
<line x1="252.5" y1="221.8" x2="265.0" y2="224.6" stroke-width="4.41"/>
<line x1="265.0" y1="224.6" x2="277.5" y2="227.8" stroke-width="4.45"/>
<line x1="277.5" y1="227.8" x2="290.0" y2="232.1" stroke-width="4.59"/>
<line x1="290.0" y1="232.1" x2="298.8" y2="235.8" stroke-width="4.68"/>
<line x1="298.8" y1="235.8" x2="315.0" y2="237.8" stroke-width="4.23"/>
<line x1="315.0" y1="237.8" x2="327.5" y2="240.2" stroke-width="4.37"/>
<line x1="327.5" y1="240.2" x2="340.0" y2="242.8" stroke-width="4.37"/>
<line x1="340.0" y1="242.8" x2="352.5" y2="246.5" stroke-width="4.52"/>
<line x1="352.5" y1="246.5" x2="365.0" y2="250.9" stroke-width="4.60"/>
<line x1="365.0" y1="250.9" x2="380.0" y2="255.0" stroke-width="4.48"/>
<line x1="380.0" y1="255.0" x2="400.0" y2="259.0" stroke-width="4.37"/>
<line x1="400.0" y1="259.0" x2="420.0" y2="262.5" stroke-width="4.32"/>
<line x1="420.0" y1="262.5" x2="442.5" y2="266.2" stroke-width="4.31"/>
<line x1="442.5" y1="266.2" x2="472.5" y2="272.8" stroke-width="4.39"/>
<line x1="472.5" y1="272.8" x2="485.0" y2="273.0" stroke-width="4.04"/>
<line x1="485.0" y1="273.0" x2="504.0" y2="273.0" stroke-width="4.00"/>
<line x1="504.0" y1="273.0" x2="509.0" y2="273.9" stroke-width="4.33"/>
<line x1="509.0" y1="273.9" x2="600.0" y2="273.9" stroke-width="4.00"/>
<line x1="600.0" y1="273.9" x2="618.8" y2="272.6" stroke-width="4.13"/>
<line x1="618.8" y1="272.6" x2="650.0" y2="270.8" stroke-width="4.11"/>
<line x1="650.0" y1="270.8" x2="687.5" y2="270.1" stroke-width="4.03"/>
<line x1="687.5" y1="270.1" x2="712.5" y2="269.5" stroke-width="4.05"/>
<line x1="712.5" y1="269.5" x2="725.0" y2="268.9" stroke-width="4.09"/>
<line x1="725.0" y1="268.9" x2="750.0" y2="267.0" stroke-width="4.14"/>
<line x1="750.0" y1="267.0" x2="787.5" y2="263.9" stroke-width="4.16"/>
<line x1="787.5" y1="263.9" x2="800.0" y2="262.5" stroke-width="4.21"/>
<line x1="800.0" y1="262.5" x2="810.0" y2="261.5" stroke-width="4.19"/>
<line x1="810.0" y1="261.5" x2="820.0" y2="260.5" stroke-width="4.19"/>
<line x1="820.0" y1="260.5" x2="830.0" y2="259.6" stroke-width="4.17"/>
<line x1="830.0" y1="259.6" x2="840.0" y2="259.0" stroke-width="4.11"/>
<line x1="840.0" y1="259.0" x2="850.0" y2="257.5" stroke-width="4.28"/>
<line x1="850.0" y1="257.5" x2="860.0" y2="256.0" stroke-width="4.28"/>
<line x1="860.0" y1="256.0" x2="870.0" y2="254.0" stroke-width="4.37"/>
<line x1="870.0" y1="254.0" x2="876.5" y2="252.7" stroke-width="4.37" stroke-linecap="butt"/>
</g>
<g><text aria-label="22600" class="b" font-size="32" fill="#000" stroke="#000" stroke-width="1.7" transform="matrix(1 0 0.001 0.9630 0 132.02)" xml:space="preserve"><tspan x="407.96" textLength="103.54" lengthAdjust="spacingAndGlyphs">22600</tspan></text></g>
<g><text aria-label="23000" class="b" font-size="32" fill="#000" stroke="#000" stroke-width="1.7" transform="matrix(1 0 0.001 0.9546 0 93.03)" xml:space="preserve"><tspan x="495.96" textLength="103.54" lengthAdjust="spacingAndGlyphs">23000</tspan></text></g>
<g><text aria-label="23500" class="b" font-size="32" fill="#000" stroke="#000" stroke-width="1.7" transform="matrix(1 0 0.001 0.9546 0 48.03)" xml:space="preserve"><tspan x="671.96" textLength="103.54" lengthAdjust="spacingAndGlyphs">23500</tspan></text></g>
<clipPath id="cp1"><path d="M0 0H1000V800H0ZM254.16 217.62H263.14V227.20H254.16ZM271.20 217.62H279.12V227.20H271.20Z" clip-rule="evenodd"/></clipPath>
<g clip-path="url(#cp1)"><text aria-label="100 SMA" class="b" font-size="36" fill="#008000" stroke="#008000" stroke-width="1.9" transform="matrix(1 0 0.001 0.9639 0 223.07)" xml:space="preserve"><tspan x="253.64" textLength="25.05" lengthAdjust="spacingAndGlyphs">1</tspan><tspan x="277.48" textLength="23.08" lengthAdjust="spacingAndGlyphs">0</tspan><tspan x="301.43" textLength="22.97" lengthAdjust="spacingAndGlyphs">0</tspan> <tspan x="338.31" textLength="86.31" lengthAdjust="spacingAndGlyphs">SMA</tspan></text></g>
<g><text aria-label="50 SMA" class="b" font-size="32" fill="#0000FF" stroke="#0000FF" stroke-width="1.7" transform="matrix(1 0 0.001 0.9714 0 150.36)" xml:space="preserve"><tspan x="738.99" textLength="41.02" lengthAdjust="spacingAndGlyphs">50</tspan> <tspan x="792.29" textLength="75.14" lengthAdjust="spacingAndGlyphs">SMA</tspan></text></g>
<g><text aria-label="200 SMA" class="b" font-size="32" fill="#800080" stroke="#800080" stroke-width="1.7" transform="matrix(1 0 0.001 0.9531 0 238.02)" xml:space="preserve"><tspan x="744.01" textLength="61.19" lengthAdjust="spacingAndGlyphs">200</tspan> <tspan x="818.38" textLength="76.51" lengthAdjust="spacingAndGlyphs">SMA</tspan></text></g>
<clipPath id="cp2"><path d="M0 0H1000V800H0ZM706.99 415.76H718.22V427.60H706.99ZM729.20 415.76H739.20V427.60H729.20ZM887.89 415.76H898.99V427.60H887.89ZM909.80 415.76H919.67V427.60H909.80Z" clip-rule="evenodd"/></clipPath>
<g clip-path="url(#cp2)"><text aria-label="NAS100 - D1" class="b" font-size="50" fill="#000" stroke="#000" stroke-width="3.0" transform="matrix(1 0 0.001 0.9283 0 422.89)" xml:space="preserve"><tspan x="594.45" textLength="37.40" lengthAdjust="spacingAndGlyphs">N</tspan><tspan x="632.88" textLength="37.30" lengthAdjust="spacingAndGlyphs">A</tspan><tspan x="671.93" textLength="32.22" lengthAdjust="spacingAndGlyphs">S</tspan><tspan x="706.36" textLength="32.07" lengthAdjust="spacingAndGlyphs">1</tspan><tspan x="738.02" textLength="30.41" lengthAdjust="spacingAndGlyphs">0</tspan><tspan x="770.52" textLength="29.66" lengthAdjust="spacingAndGlyphs">0</tspan> <tspan x="817.36" textLength="15.33" lengthAdjust="spacingAndGlyphs">-</tspan> <tspan x="850.76" textLength="33.82" lengthAdjust="spacingAndGlyphs">D</tspan><tspan x="887.09" textLength="32.02" lengthAdjust="spacingAndGlyphs">1</tspan></text></g>
<g shape-rendering="crispEdges">
<rect x="3" y="14" width="927" height="4" fill="#000"/>
<rect x="3" y="56" width="927" height="4" fill="#000"/>
<rect x="3" y="91" width="18" height="1" fill="#000"/>
<rect x="27" y="91" width="18" height="1" fill="#000"/>
<rect x="51" y="91" width="18" height="1" fill="#000"/>
<rect x="75" y="91" width="18" height="1" fill="#000"/>
<rect x="99" y="91" width="18" height="1" fill="#000"/>
<rect x="123" y="91" width="18" height="1" fill="#000"/>
<rect x="147" y="91" width="18" height="1" fill="#000"/>
<rect x="171" y="91" width="18" height="1" fill="#000"/>
<rect x="195" y="91" width="18" height="1" fill="#000"/>
<rect x="219" y="91" width="18" height="1" fill="#000"/>
<rect x="243" y="91" width="18" height="1" fill="#000"/>
<rect x="267" y="91" width="18" height="1" fill="#000"/>
<rect x="291" y="91" width="18" height="1" fill="#000"/>
<rect x="315" y="91" width="18" height="1" fill="#000"/>
<rect x="339" y="91" width="18" height="1" fill="#000"/>
<rect x="363" y="91" width="18" height="1" fill="#000"/>
<rect x="387" y="91" width="18" height="1" fill="#000"/>
<rect x="411" y="91" width="18" height="1" fill="#000"/>
<rect x="435" y="91" width="18" height="1" fill="#000"/>
<rect x="459" y="91" width="18" height="1" fill="#000"/>
<rect x="483" y="91" width="18" height="1" fill="#000"/>
<rect x="507" y="91" width="18" height="1" fill="#000"/>
<rect x="531" y="91" width="18" height="1" fill="#000"/>
<rect x="555" y="91" width="18" height="1" fill="#000"/>
<rect x="579" y="91" width="18" height="1" fill="#000"/>
<rect x="603" y="91" width="18" height="1" fill="#000"/>
<rect x="627" y="91" width="18" height="1" fill="#000"/>
<rect x="651" y="91" width="18" height="1" fill="#000"/>
<rect x="675" y="91" width="18" height="1" fill="#000"/>
<rect x="699" y="91" width="18" height="1" fill="#000"/>
<rect x="723" y="91" width="18" height="1" fill="#000"/>
<rect x="747" y="91" width="18" height="1" fill="#000"/>
<rect x="771" y="91" width="18" height="1" fill="#000"/>
<rect x="795" y="91" width="18" height="1" fill="#000"/>
<rect x="819" y="91" width="18" height="1" fill="#000"/>
<rect x="843" y="91" width="18" height="1" fill="#000"/>
<rect x="867" y="91" width="18" height="1" fill="#000"/>
<rect x="891" y="91" width="18" height="1" fill="#000"/>
<rect x="915" y="91" width="13" height="1" fill="#000"/>
</g>
<path d="M91 579h1M92 578h1M93 577h1M94 576h1M95 575h1M96 574h1M97 573h1M98 572h1M99 571h1M100 570h1M101 569h1M102 568h1M103 567h1M104 566h1M105 566h1M106 565h1M107 564h1M108 563h1M115 556h1M116 555h1M117 554h1M118 553h1M119 552h1M120 551h1M121 550h1M122 549h1M123 548h1M124 547h1M125 546h1M126 545h1M127 544h1M128 543h1M129 542h1M130 541h1M131 540h1M132 540h1M139 533h1M140 532h1M141 531h1M142 530h1M143 529h1M144 528h1M145 527h1M146 526h1M147 525h1M148 524h1M149 523h1M150 522h1M151 521h1M152 520h1M153 519h1M154 518h1M155 517h1M156 516h1M163 510h1M164 509h1M165 508h1M166 507h1M167 506h1M168 505h1M169 504h1M170 503h1M171 502h1M172 501h1M173 500h1M174 499h1M175 498h1M176 497h1M177 496h1M178 495h1M179 494h1M180 493h1M187 487h1M188 486h1M189 485h1M190 484h1M191 483h1M192 482h1M193 481h1M194 480h1M195 479h1M196 478h1M197 477h1M198 476h1M199 475h1M200 474h1M201 473h1M202 472h1M203 471h1M204 470h1M211 463h1M212 462h1M213 461h1M214 461h1M215 460h1M216 459h1M217 458h1M218 457h1M219 456h1M220 455h1M221 454h1M222 453h1M223 452h1M224 451h1M225 450h1M226 449h1M227 448h1M228 447h1M235 440h1M236 439h1M237 438h1M238 437h1M239 436h1M240 435h1M241 435h1M242 434h1M243 433h1M244 432h1M245 431h1M246 430h1M247 429h1M248 428h1M249 427h1M250 426h1M251 425h1M252 424h1M259 417h1M260 416h1M261 415h1M262 414h1M263 413h1M264 412h1M265 411h1M266 410h1M267 409h1M268 409h1M269 408h1M270 407h1M271 406h1M272 405h1M273 404h1M274 403h1M275 402h1M276 401h1M283 394h1M284 393h1M285 392h1M286 391h1M287 390h1M288 389h1M289 388h1M290 387h1M291 386h1M292 385h1M293 384h1M294 383h1M295 383h1M296 382h1M297 381h1M298 380h1M299 379h1M300 378h1M307 371h1M308 370h1M309 369h1M310 368h1M311 367h1M312 366h1M313 365h1M314 364h1M315 363h1M316 362h1M317 361h1M318 360h1M319 359h1M320 358h1M321 357h1M322 357h1M323 356h1M324 355h1M331 348h1M332 347h1M333 346h1M334 345h1M335 344h1M336 343h1M337 342h1M338 341h1M339 340h1M340 339h1M341 338h1M342 337h1M343 336h1M344 335h1M345 334h1M346 333h1M347 332h1M348 331h1M355 325h1M356 324h1M357 323h1M358 322h1M359 321h1M360 320h1M361 319h1M362 318h1M363 317h1M364 316h1M365 315h1M366 314h1M367 313h1M368 312h1M369 311h1M370 310h1M371 309h1M372 308h1M379 302h1M380 301h1M381 300h1M382 299h1M383 298h1M384 297h1M385 296h1M386 295h1M387 294h1M388 293h1M389 292h1M390 291h1M391 290h1M392 289h1M393 288h1M394 287h1M395 286h1M396 285h1M403 278h1M404 278h1M405 277h1M406 276h1M407 275h1M408 274h1M409 273h1M410 272h1M411 271h1M412 270h1M413 269h1M414 268h1M415 267h1M416 266h1M417 265h1M418 264h1M419 263h1M420 262h1M427 255h1M428 254h1M429 253h1M430 252h1M431 252h1M432 251h1M433 250h1M434 249h1M435 248h1M436 247h1M437 246h1M438 245h1M439 244h1M440 243h1M441 242h1M442 241h1M443 240h1M444 239h1M451 232h1M452 231h1M453 230h1M454 229h1M455 228h1M456 227h1M457 226h1M458 226h1M459 225h1M460 224h1M461 223h1M462 222h1M463 221h1M464 220h1M465 219h1M466 218h1M467 217h1M468 216h1M475 209h1M476 208h1M477 207h1M478 206h1M479 205h1M480 204h1M481 203h1M482 202h1M483 201h1M484 200h1M485 199h1M486 199h1M487 198h1M488 197h1M489 196h1M490 195h1M491 194h1M492 193h1M499 186h1M500 185h1M501 184h1M502 183h1M503 182h1M504 181h1M505 180h1M506 179h1M507 178h1M508 177h1M509 176h1M510 175h1M511 174h1M512 173h1M513 173h1M514 172h1M515 171h1M516 170h1M523 163h1M524 162h1M525 161h1M526 160h1M527 159h1M528 158h1M529 157h1M530 156h1M531 155h1M532 154h1M533 153h1M534 152h1M535 151h1M536 150h1M537 149h1M538 148h1M539 147h1M540 147h1M547 140h1M548 139h1M549 138h1M550 137h1M551 136h1M552 135h1M553 134h1M554 133h1M555 132h1M556 131h1M557 130h1M558 129h1M559 128h1M560 127h1M561 126h1M562 125h1M563 124h1M564 123h1M571 117h1M572 116h1M573 115h1M574 114h1M575 113h1M576 112h1M577 111h1M578 110h1M579 109h1M580 108h1M581 107h1M582 106h1M583 105h1M584 104h1M585 103h1M586 102h1M587 101h1M588 100h1M595 94h1M596 93h1M597 92h1M598 91h1M599 90h1M600 89h1M601 88h1M602 87h1M603 86h1M604 85h1M605 84h1M606 83h1M607 82h1M608 81h1M609 80h1M610 79h1M611 78h1M612 77h1M619 70h1M620 69h1M621 69h1M622 68h1M623 67h1M624 66h1M625 65h1M626 64h1M627 63h1M628 62h1M629 61h1M630 60h1M631 59h1M632 58h1M633 57h1M634 56h1M635 55h1M636 54h1M643 47h1M644 46h1M645 45h1M646 44h1M647 43h1M648 42h1M649 42h1M650 41h1M651 40h1M652 39h1M653 38h1M654 37h1M655 36h1M656 35h1M657 34h1M658 33h1M659 32h1M660 31h1M667 24h1M668 23h1M669 22h1M670 21h1M671 20h1M672 19h1M673 18h1M674 17h1M675 16h1M676 16h1M677 15h1M678 14h1M679 13h1M680 12h1M681 11h1M682 10h1M683 9h1M684 8h1" stroke="#000" stroke-width="1" fill="none" transform="translate(0,0.5)" shape-rendering="crispEdges"/>
<path d="M307 619h1M308 618h1M309 617h1M310 616h1M311 615h1M312 614h1M313 613h1M314 612h1M315 611h1M316 610h1M317 609h1M318 608h1M319 607h1M320 606h1M321 605h1M322 605h1M323 604h1M324 603h1M331 596h1M332 595h1M333 594h1M334 593h1M335 592h1M336 591h1M337 590h1M338 589h1M339 588h1M340 587h1M341 586h1M342 585h1M343 584h1M344 583h1M345 582h1M346 581h1M347 580h1M348 579h1M355 573h1M356 572h1M357 571h1M358 570h1M359 569h1M360 568h1M361 567h1M362 566h1M363 565h1M364 564h1M365 563h1M366 562h1M367 561h1M368 560h1M369 559h1M370 558h1M371 557h1M372 556h1M379 550h1M380 549h1M381 548h1M382 547h1M383 546h1M384 545h1M385 544h1M386 543h1M387 542h1M388 541h1M389 540h1M390 539h1M391 538h1M392 537h1M393 536h1M394 535h1M395 534h1M396 533h1M403 526h1M404 525h1M405 524h1M406 524h1M407 523h1M408 522h1M409 521h1M410 520h1M411 519h1M412 518h1M413 517h1M414 516h1M415 515h1M416 514h1M417 513h1M418 512h1M419 511h1M420 510h1M427 503h1M428 502h1M429 501h1M430 500h1M431 499h1M432 498h1M433 497h1M434 497h1M435 496h1M436 495h1M437 494h1M438 493h1M439 492h1M440 491h1M441 490h1M442 489h1M443 488h1M444 487h1M451 480h1M452 479h1M453 478h1M454 477h1M455 476h1M456 475h1M457 474h1M458 473h1M459 472h1M460 471h1M461 470h1M462 470h1M463 469h1M464 468h1M465 467h1M466 466h1M467 465h1M468 464h1M475 457h1M476 456h1M477 455h1M478 454h1M479 453h1M480 452h1M481 451h1M482 450h1M483 449h1M484 448h1M485 447h1M486 446h1M487 445h1M488 444h1M489 443h1M490 443h1M491 442h1M492 441h1M499 434h1M500 433h1M501 432h1M502 431h1M503 430h1M504 429h1M505 428h1M506 427h1M507 426h1M508 425h1M509 424h1M510 423h1M511 422h1M512 421h1M513 420h1M514 419h1M515 418h1M516 417h1M523 411h1M524 410h1M525 409h1M526 408h1M527 407h1M528 406h1M529 405h1M530 404h1M531 403h1M532 402h1M533 401h1M534 400h1M535 399h1M536 398h1M537 397h1M538 396h1M539 395h1M540 394h1M547 388h1M548 387h1M549 386h1M550 385h1M551 384h1M552 383h1M553 382h1M554 381h1M555 380h1M556 379h1M557 378h1M558 377h1M559 376h1M560 375h1M561 374h1M562 373h1M563 372h1M564 371h1M571 364h1M572 363h1M573 362h1M574 362h1M575 361h1M576 360h1M577 359h1M578 358h1M579 357h1M580 356h1M581 355h1M582 354h1M583 353h1M584 352h1M585 351h1M586 350h1M587 349h1M588 348h1M595 341h1M596 340h1M597 339h1M598 338h1M599 337h1M600 336h1M601 335h1M602 335h1M603 334h1M604 333h1M605 332h1M606 331h1M607 330h1M608 329h1M609 328h1M610 327h1M611 326h1M612 325h1M619 318h1M620 317h1M621 316h1M622 315h1M623 314h1M624 313h1M625 312h1M626 311h1M627 310h1M628 309h1M629 308h1M630 308h1M631 307h1M632 306h1M633 305h1M634 304h1M635 303h1M636 302h1M643 295h1M644 294h1M645 293h1M646 292h1M647 291h1M648 290h1M649 289h1M650 288h1M651 287h1M652 286h1M653 285h1M654 284h1M655 283h1M656 282h1M657 281h1M658 281h1M659 280h1M660 279h1M667 272h1M668 271h1M669 270h1M670 269h1M671 268h1M672 267h1M673 266h1M674 265h1M675 264h1M676 263h1M677 262h1M678 261h1M679 260h1M680 259h1M681 258h1M682 257h1M683 256h1M684 255h1M691 249h1M692 248h1M693 247h1M694 246h1M695 245h1M696 244h1M697 243h1M698 242h1M699 241h1M700 240h1M701 239h1M702 238h1M703 237h1M704 236h1M705 235h1M706 234h1M707 233h1M708 232h1M715 226h1M716 225h1M717 224h1M718 223h1M719 222h1M720 221h1M721 220h1M722 219h1M723 218h1M724 217h1M725 216h1M726 215h1M727 214h1M728 213h1M729 212h1M730 211h1M731 210h1M732 209h1M739 202h1M740 201h1M741 200h1M742 200h1M743 199h1M744 198h1M745 197h1M746 196h1M747 195h1M748 194h1M749 193h1M750 192h1M751 191h1M752 190h1M753 189h1M754 188h1M755 187h1M756 186h1M763 179h1M764 178h1M765 177h1M766 176h1M767 175h1M768 174h1M769 173h1M770 173h1M771 172h1M772 171h1M773 170h1M774 169h1M775 168h1M776 167h1M777 166h1M778 165h1M779 164h1M780 163h1M787 156h1M788 155h1M789 154h1M790 153h1M791 152h1M792 151h1M793 150h1M794 149h1M795 148h1M796 147h1M797 146h1M798 146h1M799 145h1M800 144h1M801 143h1M802 142h1M803 141h1M804 140h1M811 133h1M812 132h1M813 131h1M814 130h1M815 129h1M816 128h1M817 127h1M818 126h1M819 125h1M820 124h1M821 123h1M822 122h1M823 121h1M824 120h1M825 119h1M826 119h1M827 118h1M828 117h1M835 110h1M836 109h1M837 108h1M838 107h1M839 106h1M840 105h1M841 104h1M842 103h1M843 102h1M844 101h1M845 100h1M846 99h1M847 98h1M848 97h1M849 96h1M850 95h1M851 94h1M852 93h1M859 87h1M860 86h1M861 85h1M862 84h1M863 83h1M864 82h1M865 81h1M866 80h1M867 79h1M868 78h1M869 77h1M870 76h1M871 75h1M872 74h1M873 73h1M874 72h1M875 71h1M876 70h1M883 64h1M884 63h1M885 62h1M886 61h1M887 60h1M888 59h1M889 58h1M890 57h1M891 56h1M892 55h1M893 54h1M894 53h1M895 52h1M896 51h1M897 50h1M898 49h1M899 48h1M900 47h1M907 40h1M908 39h1M909 38h1M910 38h1M911 37h1M912 36h1M913 35h1M914 34h1M915 33h1M916 32h1M917 31h1M918 30h1M919 29h1M920 28h1M921 27h1M922 26h1" stroke="#000" stroke-width="1" fill="none" transform="translate(0,0.5)" shape-rendering="crispEdges"/>
<g shape-rendering="crispEdges">
<rect x="2" y="2" width="927" height="1" fill="#000"/>
<rect x="2" y="2" width="1" height="642" fill="#000"/>
<rect x="2" y="645" width="1" height="129" fill="#000"/>
<rect x="928" y="2" width="1" height="642" fill="#000"/>
<rect x="928" y="645" width="1" height="129" fill="#000"/>
<rect x="2" y="643" width="927" height="1" fill="#000"/>
<rect x="2" y="645" width="927" height="1" fill="#000"/>
<rect x="2" y="773" width="927" height="1" fill="#000"/>
<rect x="929" y="23" width="2" height="1" fill="#000"/>
<rect x="929" y="88" width="2" height="1" fill="#000"/>
<rect x="929" y="153" width="2" height="1" fill="#000"/>
<rect x="929" y="218" width="2" height="1" fill="#000"/>
<rect x="929" y="283" width="2" height="1" fill="#000"/>
<rect x="929" y="348" width="2" height="1" fill="#000"/>
<rect x="929" y="413" width="2" height="1" fill="#000"/>
<rect x="929" y="478" width="2" height="1" fill="#000"/>
<rect x="929" y="543" width="2" height="1" fill="#000"/>
<rect x="929" y="608" width="2" height="1" fill="#000"/>
<rect x="929" y="647" width="1" height="1" fill="#000"/>
<rect x="929" y="772" width="1" height="1" fill="#000"/>
<rect x="3" y="774" width="1" height="3" fill="#000"/>
<rect x="131" y="774" width="1" height="3" fill="#000"/>
<rect x="259" y="774" width="1" height="3" fill="#000"/>
<rect x="387" y="774" width="1" height="3" fill="#000"/>
<rect x="515" y="774" width="1" height="3" fill="#000"/>
<rect x="643" y="774" width="1" height="3" fill="#000"/>
<rect x="771" y="774" width="1" height="3" fill="#000"/>
</g>
<text class="s" x="934.6" y="29" textLength="52.4" lengthAdjust="spacingAndGlyphs">23419.0</text>
<text class="s" x="934.6" y="94" textLength="52.4" lengthAdjust="spacingAndGlyphs">22637.0</text>
<text class="s" x="934.6" y="159" textLength="52.4" lengthAdjust="spacingAndGlyphs">21855.0</text>
<text class="s" x="934.6" y="224" textLength="52.4" lengthAdjust="spacingAndGlyphs">21084.5</text>
<text class="s" x="934.6" y="289" textLength="52.4" lengthAdjust="spacingAndGlyphs">20302.5</text>
<text class="s" x="934.6" y="354" textLength="52.4" lengthAdjust="spacingAndGlyphs">19520.5</text>
<text class="s" x="934.6" y="419" textLength="52.4" lengthAdjust="spacingAndGlyphs">18738.5</text>
<text class="s" x="934.6" y="484" textLength="52.4" lengthAdjust="spacingAndGlyphs">17956.5</text>
<text class="s" x="934.6" y="549" textLength="52.4" lengthAdjust="spacingAndGlyphs">17186.0</text>
<text class="s" x="934.6" y="614" textLength="52.4" lengthAdjust="spacingAndGlyphs">16404.0</text>
<rect x="930" y="10" width="62" height="17" fill="#000" shape-rendering="crispEdges"/>
<text class="w" x="934.6" y="24" textLength="52.4" lengthAdjust="spacingAndGlyphs">23500.0</text>
<rect x="930" y="39" width="62" height="17" fill="#000" shape-rendering="crispEdges"/>
<text class="w" x="934.6" y="53" textLength="52.4" lengthAdjust="spacingAndGlyphs">23123.7</text>
<rect x="930" y="52" width="62" height="17" fill="#000" shape-rendering="crispEdges"/>
<text class="w" x="934.6" y="66" textLength="52.4" lengthAdjust="spacingAndGlyphs">23000.0</text>
<rect x="930" y="85" width="62" height="17" fill="#000" shape-rendering="crispEdges"/>
<text class="w" x="934.6" y="99" textLength="52.4" lengthAdjust="spacingAndGlyphs">22600.0</text>
<g shape-rendering="crispEdges">
<rect x="930" y="676" width="18" height="17" fill="#000"/>
<rect x="930" y="727" width="18" height="17" fill="#000"/>
</g>
<text class="s" y="663"><tspan x="7.3" textLength="46.5" lengthAdjust="spacingAndGlyphs">RSI(14)</tspan> <tspan x="57.8" textLength="52" lengthAdjust="spacingAndGlyphs">70.9831</tspan></text>
<polyline points="3.5,692.4 11.5,691.4 19.5,692.2 27.5,692.2 35.5,695.8 43.5,711.8 51.5,720.1 59.5,724.8 67.5,722.6 75.5,733.2 83.5,725.8 91.5,731.0 99.5,731.0 107.5,728.5 115.5,735.1 123.5,736.4 131.5,743.2 139.5,744.5 147.5,738.6 155.5,740.8 163.5,730.1 171.5,726.6 179.5,730.1 187.5,724.2 195.5,725.5 203.5,723.2 211.5,713.0 219.5,710.8 227.5,718.2 235.5,719.5 243.5,729.0 251.5,728.5 259.5,723.2 267.5,730.1 275.5,735.1 283.5,744.4 291.5,741.6 299.5,744.4 307.5,711.8 315.5,719.2 323.5,715.5 331.5,714.5 339.5,714.5 347.5,720.1 355.5,719.2 363.5,723.1 371.5,716.6 379.5,710.1 387.5,706.0 395.5,704.5 403.5,705.5 411.5,703.0 419.5,700.5 427.5,701.4 435.5,697.6 443.5,699.8 451.5,702.2 459.5,701.0 467.5,698.5 475.5,698.5 483.5,688.2 491.5,686.0 499.5,684.5 507.5,684.2 515.5,684.2 523.5,683.0 531.5,685.5 539.5,692.0 547.5,691.4 555.5,698.5 563.5,693.0 571.5,690.5 579.5,689.5 587.5,693.2 595.5,694.5 603.5,690.8 611.5,688.5 619.5,687.2 627.5,694.5 635.5,689.2 643.5,689.2 651.5,687.2 659.5,689.2 667.5,689.2 675.5,698.2 683.5,692.2 691.5,698.5 699.5,698.5 707.5,706.4 715.5,702.0 723.5,697.0 731.5,691.4 739.5,690.1 747.5,686.4 755.5,685.5 763.5,683.0 771.5,690.5 779.5,687.6 787.5,683.0 795.5,689.5 803.5,691.8 811.5,690.1 819.5,687.2 827.5,688.2 835.5,691.4 843.5,688.2 851.5,689.2 859.5,688.2 867.5,683.9 875.5,683.0" fill="none" stroke="#1E90FF" stroke-width="3" stroke-linejoin="round" shape-rendering="crispEdges" clip-path="url(#sub)"/>
<g shape-rendering="crispEdges">
<rect x="4" y="683" width="926" height="2" fill="#000"/>
<rect x="4" y="734" width="926" height="2" fill="#000"/>
</g>
<text class="s" x="932.4" y="661" textLength="23.3" lengthAdjust="spacingAndGlyphs">100</text>
<text class="w" x="931.5" y="690" textLength="15.6" lengthAdjust="spacingAndGlyphs">70</text>
<text class="w" x="931.5" y="741" textLength="15.6" lengthAdjust="spacingAndGlyphs">30</text>
<text class="s" x="931.8" y="769" textLength="7.8" lengthAdjust="spacingAndGlyphs">0</text>
<text class="s" x="2.5" y="791" textLength="78.0" lengthAdjust="spacingAndGlyphs">14 Feb 2025</text>
<text class="s" x="130.5" y="791" textLength="77.5" lengthAdjust="spacingAndGlyphs">10 Mar 2025</text>
<text class="s" x="258.5" y="791" textLength="68.8" lengthAdjust="spacingAndGlyphs">1 Apr 2025</text>
<text class="s" x="386.5" y="791" textLength="77.0" lengthAdjust="spacingAndGlyphs">24 Apr 2025</text>
<text class="s" x="514.5" y="791" textLength="81.0" lengthAdjust="spacingAndGlyphs">16 May 2025</text>
<text class="s" x="642.5" y="791" textLength="69.8" lengthAdjust="spacingAndGlyphs">9 Jun 2025</text>
<text class="s" x="770.5" y="791" textLength="63.8" lengthAdjust="spacingAndGlyphs">1 Jul 2025</text>
</svg>
</body></html>
